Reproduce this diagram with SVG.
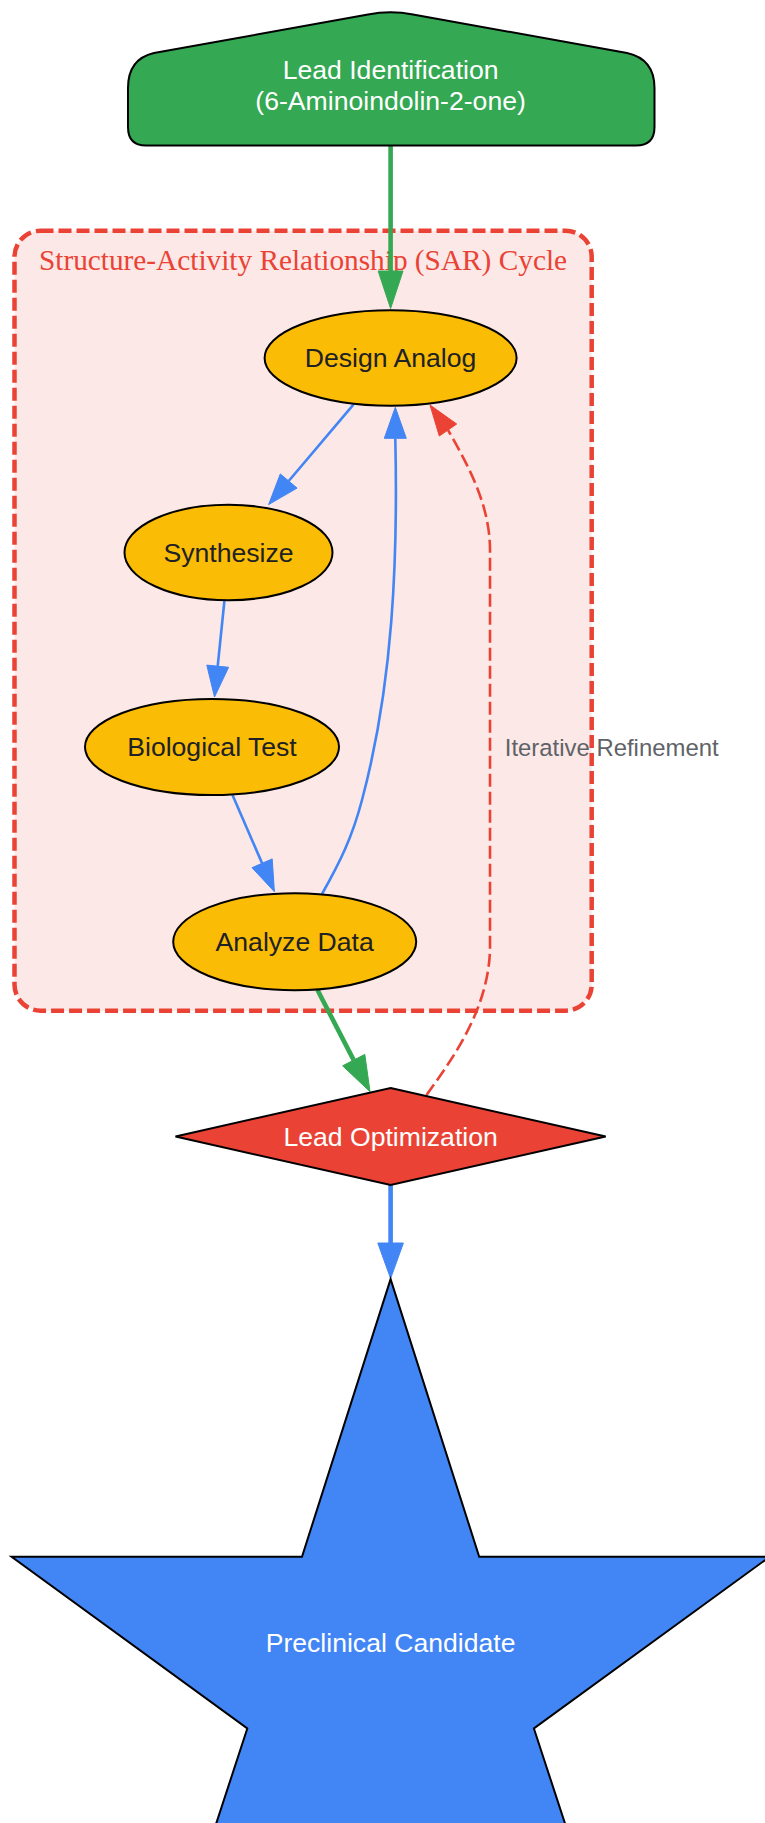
<svg xmlns="http://www.w3.org/2000/svg" width="765" height="1823" viewBox="0 0 765 1823">
<style>
.lbl{font-family:"Liberation Sans",Arial,sans-serif;font-size:26.6px;text-anchor:middle}
.w{fill:#FFFFFF}
.d{fill:#202124}
.node{stroke:#000000;stroke-width:2}
.e{fill:none}
.thin{stroke-width:2.6}
.thick{stroke-width:4.6}
.g{stroke:#34A853}
.b{stroke:#4285F4}
.r{stroke:#EA4335}
.ah-g{fill:#34A853;stroke:#34A853;stroke-width:1}
.ah-b{fill:#4285F4;stroke:#4285F4;stroke-width:1}
.ah-r{fill:#EA4335;stroke:#EA4335;stroke-width:1}
</style>
<rect width="765" height="1823" fill="#FFFFFF"/>
<g id="cluster_sar">
<rect x="14.5" y="230.7" width="577.2" height="780" rx="26" ry="26" fill="#FCE8E6" stroke="#EA4335" stroke-width="4.5" stroke-dasharray="13,5"/>
<text x="303" y="270" font-family="'Liberation Serif','Times New Roman',serif" font-size="29.3" fill="#EA4335" text-anchor="middle">Structure-Activity Relationship (SAR) Cycle</text>
</g>
<g id="edges">
<path class="e thick g" d="M390.6,146 L390.6,272"/>
<polygon class="ah-g" points="390.6,308.5 378.2,271 403,271"/>
<path class="e thin b" d="M353.4,404.6 L288.7,481"/>
<polygon class="ah-b" points="268.6,504.6 297.1,488.1 280.3,473.9"/>
<path class="e thin b" d="M224.4,601 L217.7,666.2"/>
<polygon class="ah-b" points="214.5,697 228.6,667.3 206.8,665.1"/>
<path class="e thin b" d="M232.5,795 L262.1,863.3"/>
<polygon class="ah-b" points="274.4,891.7 272.2,858.9 252,867.7"/>
<path class="e thin b" d="M322,894 C340,862 352,838 362,800 C393,684 398,560 395.3,438.5"/>
<polygon class="ah-b" points="395.3,407.3 384.3,438.3 406.3,438.3"/>
<path class="e thick g" d="M317.5,990 L353.7,1060.1"/>
<polygon class="ah-g" points="370,1091.7 364.8,1054.4 342.6,1065.8"/>
<path class="e thin r" stroke-dasharray="13,5" d="M426.5,1095 C450,1062 488,1012 490,950 L490,550 C490,505 468,465 448,430"/>
<polygon class="ah-r" points="430,405 439.3,436 456.7,424"/>
<text x="611.7" y="756" font-family="'Liberation Sans',Arial,sans-serif" font-size="23.9" fill="#5F6368" text-anchor="middle">Iterative Refinement</text>
<path class="e thick b" d="M390.6,1185 L390.6,1244"/>
<polygon class="ah-b" points="390.6,1278.5 377.8,1243 403.4,1243"/>
</g>
<g id="lead_identification">
<path class="node" fill="#34A853" d="M146,145.5 L636,145.5 Q654.5,145.5 654.5,127 L654.5,88 Q654.5,59 627,53 L413,14.5 Q390.6,10 368,14.5 L154,53 Q128,59 128,88 L128,127 Q128,145.5 146,145.5 Z"/>
<text class="lbl w" x="390.6" y="78.5">Lead Identification</text>
<text class="lbl w" x="390.6" y="110">(6-Aminoindolin-2-one)</text>
</g>
<g id="design_analog">
<ellipse class="node" fill="#FBBC05" cx="390.6" cy="358" rx="126" ry="47.7"/>
<text class="lbl d" x="390.6" y="367">Design Analog</text>
</g>
<g id="synthesize">
<ellipse class="node" fill="#FBBC05" cx="228.5" cy="552.5" rx="104" ry="47.7"/>
<text class="lbl d" x="228.5" y="561.7">Synthesize</text>
</g>
<g id="biological_test">
<ellipse class="node" fill="#FBBC05" cx="212" cy="747" rx="127" ry="48"/>
<text class="lbl d" x="212" y="756.3">Biological Test</text>
</g>
<g id="analyze_data">
<ellipse class="node" fill="#FBBC05" cx="294.7" cy="941.7" rx="121.5" ry="48.5"/>
<text class="lbl d" x="294.7" y="950.9">Analyze Data</text>
</g>
<g id="lead_optimization">
<polygon class="node" fill="#EA4335" points="390.6,1088 605.7,1136.5 390.6,1185 175.5,1136.5"/>
<text class="lbl w" x="390.6" y="1145.8">Lead Optimization</text>
</g>
<g id="preclinical_candidate">
<polygon class="node" fill="#4285F4" points="390.6,1279.1 479.2,1556.7 769.6,1556.8 533.9,1728.5 624.8,2006.1 390.6,1834.6 156.4,2006.1 247.3,1728.5 11.6,1556.8 302,1556.7"/>
<text class="lbl w" x="390.6" y="1652.3">Preclinical Candidate</text>
</g>
</svg>
